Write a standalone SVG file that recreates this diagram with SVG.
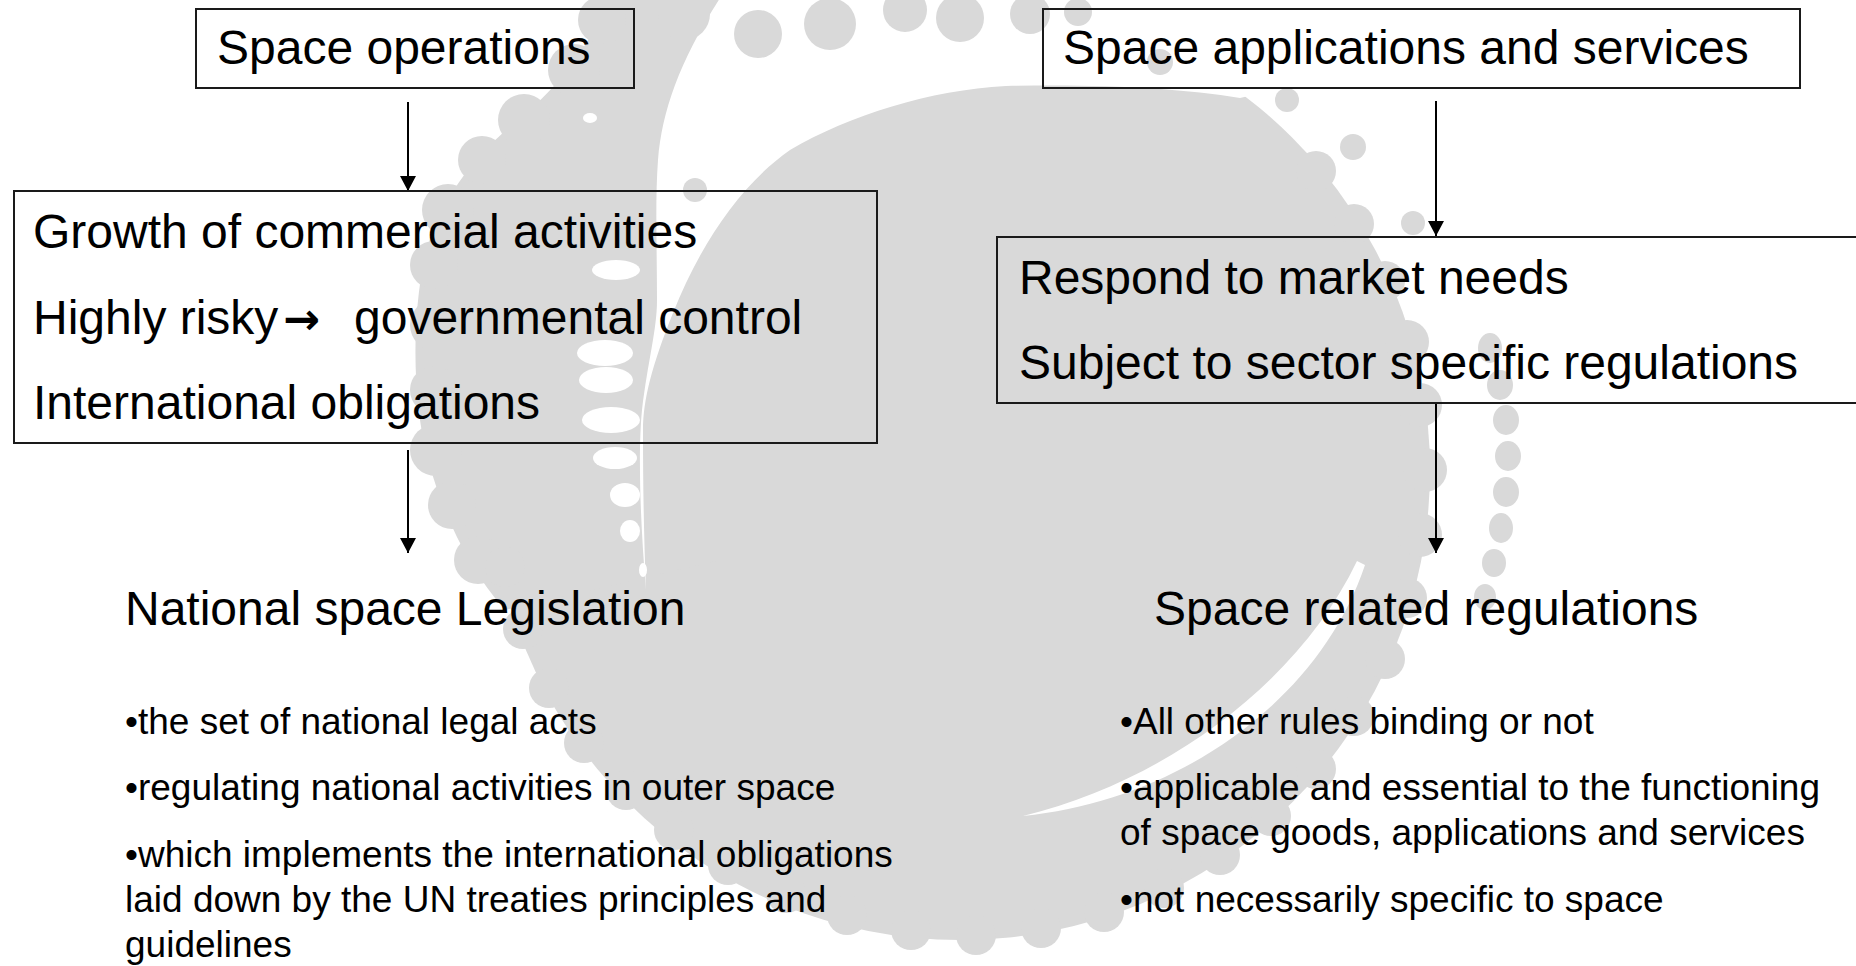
<svg xmlns="http://www.w3.org/2000/svg" width="1856" height="966" viewBox="0 0 1856 966">
  <style>
    .wm { fill: #d9d9d9; }
    .gap { fill: #ffffff; }
    .box { fill: none; stroke: #1a1a1a; stroke-width: 2; }
    .lbl { font-family: "Liberation Sans", Arial, Helvetica, sans-serif; font-size: 48px; fill: #000; }
    .bul { font-family: "Liberation Sans", Arial, Helvetica, sans-serif; font-size: 37px; fill: #000; }
    .sym { font-family: "DejaVu Sans", sans-serif; font-size: 44px; font-weight: bold; }
    .conn { fill: none; stroke: #000; stroke-width: 2; marker-end: url(#head); }
  </style>
  <defs>
    <marker id="head" viewBox="0 0 15 16" refX="15" refY="8" markerWidth="15" markerHeight="16" markerUnits="userSpaceOnUse" orient="auto">
      <path d="M0,0 L15,8 L0,16 Z" fill="#000"/>
    </marker>
  </defs>

  <rect width="1856" height="966" fill="#ffffff"/>

  <!-- background emblem: grey disc inside a lobed ring, separated by white gaps -->
  <g id="watermark">
    <g class="wm">
      <circle cx="960" cy="470" r="470"/>
      <!-- thick upper-left part of the ring -->
      <path d="M640,-5 L612,-5 C592,40 562,85 518,120 C475,155 438,200 424,260 C412,320 412,400 428,460 C445,520 470,570 505,610 L720,560 L720,-5 Z"/>
      <!-- lobes on the upper-left rim -->
      <circle cx="602" cy="20" r="24"/>
      <circle cx="574" cy="70" r="26"/>
      <circle cx="524" cy="120" r="26"/>
      <circle cx="482" cy="160" r="24"/>
      <circle cx="448" cy="210" r="26"/>
      <circle cx="434" cy="265" r="24"/>
      <circle cx="436" cy="325" r="26"/>
      <circle cx="434" cy="390" r="24"/>
      <circle cx="436" cy="450" r="26"/>
      <circle cx="452" cy="505" r="24"/>
      <circle cx="478" cy="560" r="24"/>
      <!-- lobes on the right and lower rim -->
      <circle cx="1316" cy="171" r="20"/>
      <circle cx="1354" cy="224" r="20"/>
      <circle cx="1385" cy="281" r="20"/>
      <circle cx="1407" cy="342" r="22"/>
      <circle cx="1420" cy="405" r="22"/>
      <circle cx="1425" cy="470" r="22"/>
      <circle cx="1420" cy="535" r="22"/>
      <circle cx="1407" cy="598" r="20"/>
      <circle cx="1385" cy="659" r="20"/>
      <circle cx="1354" cy="716" r="20"/>
      <circle cx="1316" cy="769" r="20"/>
      <circle cx="1271" cy="816" r="20"/>
      <circle cx="1220" cy="855" r="20"/>
      <circle cx="1164" cy="888" r="20"/>
      <circle cx="1104" cy="912" r="20"/>
      <circle cx="1041" cy="928" r="20"/>
      <circle cx="976" cy="935" r="20"/>
      <circle cx="911" cy="930" r="20"/>
      <circle cx="847" cy="915" r="20"/>
      <circle cx="786" cy="893" r="20"/>
      <circle cx="728" cy="865" r="20"/>
      <circle cx="674" cy="830" r="20"/>
      <circle cx="626" cy="790" r="20"/>
      <circle cx="584" cy="743" r="20"/>
      <circle cx="549" cy="688" r="20"/>
      <circle cx="523" cy="629" r="20"/>
      <circle cx="505" cy="567" r="20"/>
    </g>
    <!-- upper gap between ring and disc, opening onto the top edge -->
    <path class="gap" d="M646,590 C640,520 638,450 642,410 C648,360 657,330 657,300 C657,250 655,200 658,160 C662,110 680,60 722,-5 L1320,-5 L1320,60 C1290,80 1270,92 1240,98 C1180,88 1100,84 1006,86 C930,90 850,115 790,150 C740,185 700,245 673,313 C652,365 643,400 643,430 C643,490 644,540 646,590 Z"/>
    <!-- lower-right gap -->
    <path class="gap" d="M1357,561 C1300,680 1170,780 1023,816 C1180,800 1320,700 1365,565 Z"/>
    <!-- notches along the inner edge of the ring -->
    <g class="gap">
      <ellipse cx="616" cy="270" rx="24" ry="10"/>
      <ellipse cx="605" cy="353" rx="28" ry="13"/>
      <ellipse cx="606" cy="380" rx="27" ry="13"/>
      <ellipse cx="611" cy="420" rx="29" ry="13"/>
      <ellipse cx="615" cy="458" rx="22" ry="11"/>
      <ellipse cx="625" cy="495" rx="15" ry="12"/>
      <ellipse cx="630" cy="531" rx="10" ry="11"/>
      <ellipse cx="643" cy="570" rx="4" ry="7"/>
      <ellipse cx="590" cy="118" rx="7" ry="5"/>
    </g>
    <!-- dotted outer halo: top, upper right and right -->
    <g class="wm">
      <circle cx="695" cy="190" r="12"/>
      <circle cx="684" cy="14" r="26"/>
      <circle cx="758" cy="34" r="24"/>
      <circle cx="830" cy="24" r="26"/>
      <circle cx="905" cy="10" r="22"/>
      <circle cx="960" cy="18" r="24"/>
      <circle cx="1030" cy="14" r="20"/>
      <circle cx="1078" cy="12" r="14"/>
      <circle cx="1160" cy="62" r="13"/>
      <circle cx="1287" cy="100" r="12"/>
      <circle cx="1353" cy="147" r="13"/>
      <circle cx="1413" cy="223" r="12"/>
      <ellipse cx="1490" cy="348" rx="12" ry="15"/>
      <ellipse cx="1500" cy="385" rx="13" ry="15"/>
      <ellipse cx="1506" cy="420" rx="13" ry="15"/>
      <ellipse cx="1508" cy="456" rx="13" ry="15"/>
      <ellipse cx="1506" cy="492" rx="13" ry="15"/>
      <ellipse cx="1501" cy="528" rx="12" ry="15"/>
      <ellipse cx="1494" cy="563" rx="12" ry="14"/>
      <ellipse cx="1485" cy="597" rx="11" ry="13"/>
    </g>
  </g>

  <!-- connectors -->
  <g id="connectors">
    <line class="conn" x1="408" y1="102" x2="408" y2="191"/>
    <line class="conn" x1="408" y1="450" x2="408" y2="553"/>
    <line class="conn" x1="1436" y1="101" x2="1436" y2="236"/>
    <line class="conn" x1="1436" y1="403" x2="1436" y2="553"/>
  </g>

  <g id="space-operations">
    <rect class="box" x="196" y="9" width="438" height="79"/>
    <text class="lbl" x="217" y="64">Space operations</text>
  </g>

  <g id="operations-features">
    <rect class="box" x="14" y="191" width="863" height="252"/>
    <text class="lbl" x="33" y="248">Growth of commercial activities</text>
    <text class="lbl" x="33" y="334">Highly risky<tspan class="sym" x="283">→</tspan><tspan x="354">governmental control</tspan></text>
    <text class="lbl" x="33" y="419">International obligations</text>
  </g>

  <g id="national-legislation">
    <text class="lbl" x="125" y="625">National space Legislation</text>
    <text class="bul" x="125" y="734">•the set of national legal acts</text>
    <text class="bul" x="125" y="800">•regulating national activities in outer space</text>
    <text class="bul" x="125" y="867">•which implements the international obligations</text>
    <text class="bul" x="125" y="912">laid down by the UN treaties principles and</text>
    <text class="bul" x="125" y="957">guidelines</text>
  </g>

  <g id="space-applications">
    <rect class="box" x="1043" y="9" width="757" height="79"/>
    <text class="lbl" x="1063" y="64">Space applications and services</text>
  </g>

  <g id="applications-features">
    <rect class="box" x="997" y="237" width="880" height="166"/>
    <text class="lbl" x="1019" y="294">Respond to market needs</text>
    <text class="lbl" x="1019" y="379">Subject to sector specific regulations</text>
  </g>

  <g id="related-regulations">
    <text class="lbl" x="1154" y="625">Space related regulations</text>
    <text class="bul" x="1120" y="734">•All other rules binding or not</text>
    <text class="bul" x="1120" y="800">•applicable and essential to the functioning</text>
    <text class="bul" x="1120" y="845">of space goods, applications and services</text>
    <text class="bul" x="1120" y="912">•not necessarily specific to space</text>
  </g>
</svg>
